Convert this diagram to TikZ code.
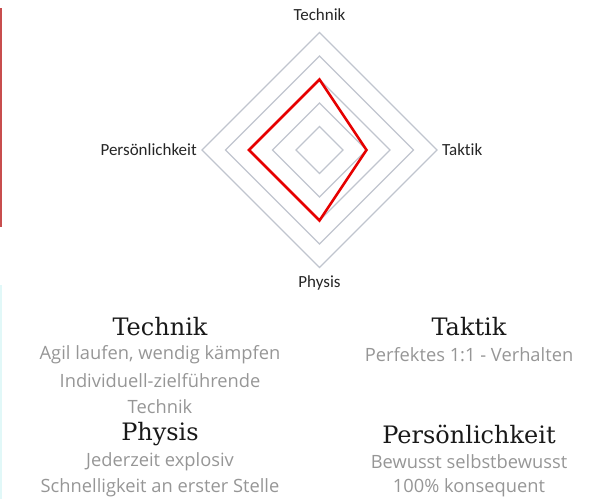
\documentclass[tikz,border=0pt]{standalone}
\usepackage{fontspec}
\usetikzlibrary{calc}
\setmainfont{Carlito}
\newfontfamily\labfont[Ligatures={NoCommon}]{Carlito}
\newfontfamily\headfont{DejaVu Serif}
\newfontfamily\bodyfont{Open Sans}
\definecolor{ring}{RGB}{192,197,206}
\definecolor{bar}{RGB}{200,78,78}
\definecolor{faint}{RGB}{225,248,248}
\definecolor{bodygray}{RGB}{150,150,150}
\definecolor{valred}{RGB}{230,0,0}
\begin{document}
\begin{tikzpicture}[x=1pt,y=-1pt,
  ringline/.style={draw=ring,line width=1.1pt},
  valline/.style={draw=valred,line width=2.6pt,line join=miter},
  axlabel/.style={font=\labfont\fontsize{17}{20}\selectfont,text=black!85,inner sep=0pt},
  headtxt/.style={font=\headfont\fontsize{24}{27}\selectfont,text=black!90,inner sep=0pt},
  bodytxt/.style={font=\bodyfont\fontsize{18.3}{21}\selectfont,text=bodygray,inner sep=0pt}]
\useasboundingbox (0,0) rectangle (598,499);
% left edge bars
\fill[bar] (0,8) rectangle (2,227);
\fill[faint] (0,285) rectangle (2,499);
% radar
\coordinate (c) at (319.5,150);
\foreach \r in {23.5,47,70.5,94,117.5}{
  \draw[ringline] ($(c)+(0,-\r)$) -- ($(c)+(\r,0)$) -- ($(c)+(0,\r)$) -- ($(c)+(-\r,0)$) -- cycle;
}
\coordinate (vT) at ($(c)+(0,-70.5)$);
\coordinate (vR) at ($(c)+(47,0)$);
\coordinate (vB) at ($(c)+(0,70.5)$);
\coordinate (vL) at ($(c)+(-70.5,0)$);
\draw[valline] (vT) -- (vR) -- (vB) -- (vL) -- cycle;
\node[axlabel] (lT) at (319.5,15) {Technik};
\node[axlabel,anchor=west] (lR) at (442,150) {Taktik};
\node[axlabel,anchor=east] (lL) at (197,150) {Persönlichkeit};
\node[axlabel] (lB) at (319.5,283) {Physis};
% text blocks
\node[headtxt] (h1) at (160,327) {Technik};
\node[bodytxt] (b1a) at (160,355) {Agil laufen, wendig kämpfen};
\node[bodytxt] (b1b) at (160,381) {Individuell-zielführende};
\node[bodytxt] (b1c) at (160,407) {Technik};
\node[headtxt] (h2) at (160,434) {Physis};
\node[bodytxt] (b2a) at (160,462) {Jederzeit explosiv};
\node[bodytxt] (b2b) at (160,488) {Schnelligkeit an erster Stelle};
\node[headtxt] (h3) at (469,327) {Taktik};
\node[bodytxt] (b3a) at (469,355) {Perfektes 1:1 - Verhalten};
\node[headtxt] (h4) at (469,434) {Persönlichkeit};
\node[bodytxt] (b4a) at (469,462) {Bewusst selbstbewusst};
\node[bodytxt] (b4b) at (469,488) {100\% konsequent};
\end{tikzpicture}
\end{document}
